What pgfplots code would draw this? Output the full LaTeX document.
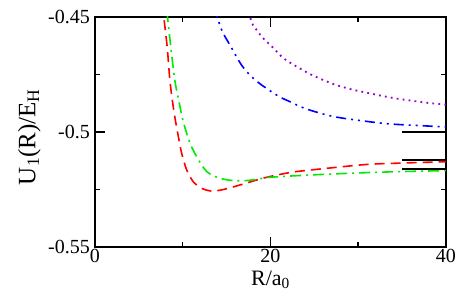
\documentclass[border=0pt]{standalone}
\usepackage{fontspec}
\setmainfont{Liberation Serif}
\usepackage{pgfplots}
\pgfplotsset{compat=1.18}
\definecolor{xviolet}{RGB}{148,0,211}
\definecolor{xgreen}{RGB}{0,235,0}
\begin{document}
\fontsize{20}{23}\selectfont
\begin{tikzpicture}
\begin{axis}[
  name=ax,
  scale only axis,
  width=351pt, height=230pt,
  xmin=0, xmax=40, ymin=-0.55, ymax=-0.45,
  xtick={0,20,40}, xticklabels={0,20,40},
  minor xtick={10,30},
  ytick={-0.55,-0.5,-0.45}, yticklabels={-0.55,-0.5,-0.45},
  minor ytick={-0.525,-0.475},
  tick align=inside,
  major tick length=10pt, minor tick length=5pt,
  every tick/.style={black, line width=1.5pt},
  axis line style={line width=1.6pt},
  /pgf/number format/assume math mode=true,
  ticklabel style={font=\fontsize{20}{23}\selectfont},
  yticklabel style={inner sep=2.5pt, xshift=-2.5pt},
  xticklabel style={inner sep=2pt},
  xlabel={R/a\textsubscript{0}},
  ylabel={U\textsubscript{1}(R)/E\textsubscript{H}},
  xlabel style={font=\fontsize{22}{24}\selectfont, yshift=1pt},
  ylabel style={font=\fontsize{25}{28}\selectfont, at={(ticklabel cs:0.478)}, yshift=-2pt},
  clip=true,
]
% red dashed
\addplot[red, line width=1.6pt, dash pattern=on 10pt off 6pt, smooth] coordinates {
(7.70,-0.4445) (7.86,-0.4506) (8.24,-0.4636) (8.55,-0.4781) (9.0,-0.4912) (9.5,-0.5020)
(9.88,-0.5093) (10.45,-0.5165) (11.2,-0.5216) (12.16,-0.5245) (13.3,-0.5257)
(14.4,-0.5252) (16.1,-0.5235) (18.4,-0.5209) (19.9,-0.5194) (22.6,-0.5174)
(26.4,-0.5158) (31,-0.5141) (35,-0.5135) (40,-0.5129)};
% green dash-dot
\addplot[xgreen, line width=1.6pt, dash pattern=on 11pt off 5pt on 2pt off 5pt, smooth] coordinates {
(8.2,-0.4475) (8.36,-0.4535) (8.74,-0.4665) (9.12,-0.4781) (9.5,-0.4854) (10.06,-0.4955)
(11.0,-0.5064) (12.5,-0.5162) (13.7,-0.5194) (15.2,-0.5209) (16.9,-0.5212)
(18.4,-0.5206) (19.9,-0.5197) (24.5,-0.5187) (30,-0.5178)
(35,-0.5172) (40,-0.5168)};
% blue dash-dot-dot
\addplot[blue, line width=1.6pt, dash pattern=on 10pt off 5pt on 2pt off 5pt on 2pt off 5pt, smooth] coordinates {
(13.6,-0.446) (14.44,-0.4557) (15.38,-0.4622) (16.7,-0.4709) (17.86,-0.476)
(19.0,-0.4796) (20.9,-0.4844) (22.2,-0.4868) (24.1,-0.4900) (27.2,-0.4933)
(30.6,-0.4952) (33.6,-0.4965) (37.4,-0.4973) (40,-0.4978)};
% violet dotted
\addplot[xviolet, line width=1.8pt, dash pattern=on 1.8pt off 4.2pt, smooth] coordinates {
(17.5,-0.448) (18.0,-0.4535) (18.6,-0.4564) (19.0,-0.4586) (20.25,-0.4632)
(21.5,-0.4680) (23.0,-0.4716) (24.5,-0.4748) (26.0,-0.4774) (27.5,-0.4796)
(29.25,-0.4815) (30.96,-0.4829) (32.7,-0.4843) (34.4,-0.4855) (36.1,-0.4864)
(37.8,-0.4873) (40,-0.4881)};
% black asymptote lines
\addplot[black, line width=1.6pt] coordinates {(35,-0.5) (40,-0.5)};
\addplot[black, line width=1.6pt] coordinates {(35,-0.5122) (40,-0.5122)};
\addplot[black, line width=1.6pt] coordinates {(35,-0.5162) (40,-0.5162)};
\end{axis}
\pgfresetboundingbox
\path[use as bounding box] ([xshift=-95pt,yshift=-54pt]ax.south west) rectangle ([xshift=17pt,yshift=17pt]ax.north east);
\end{tikzpicture}
\end{document}
